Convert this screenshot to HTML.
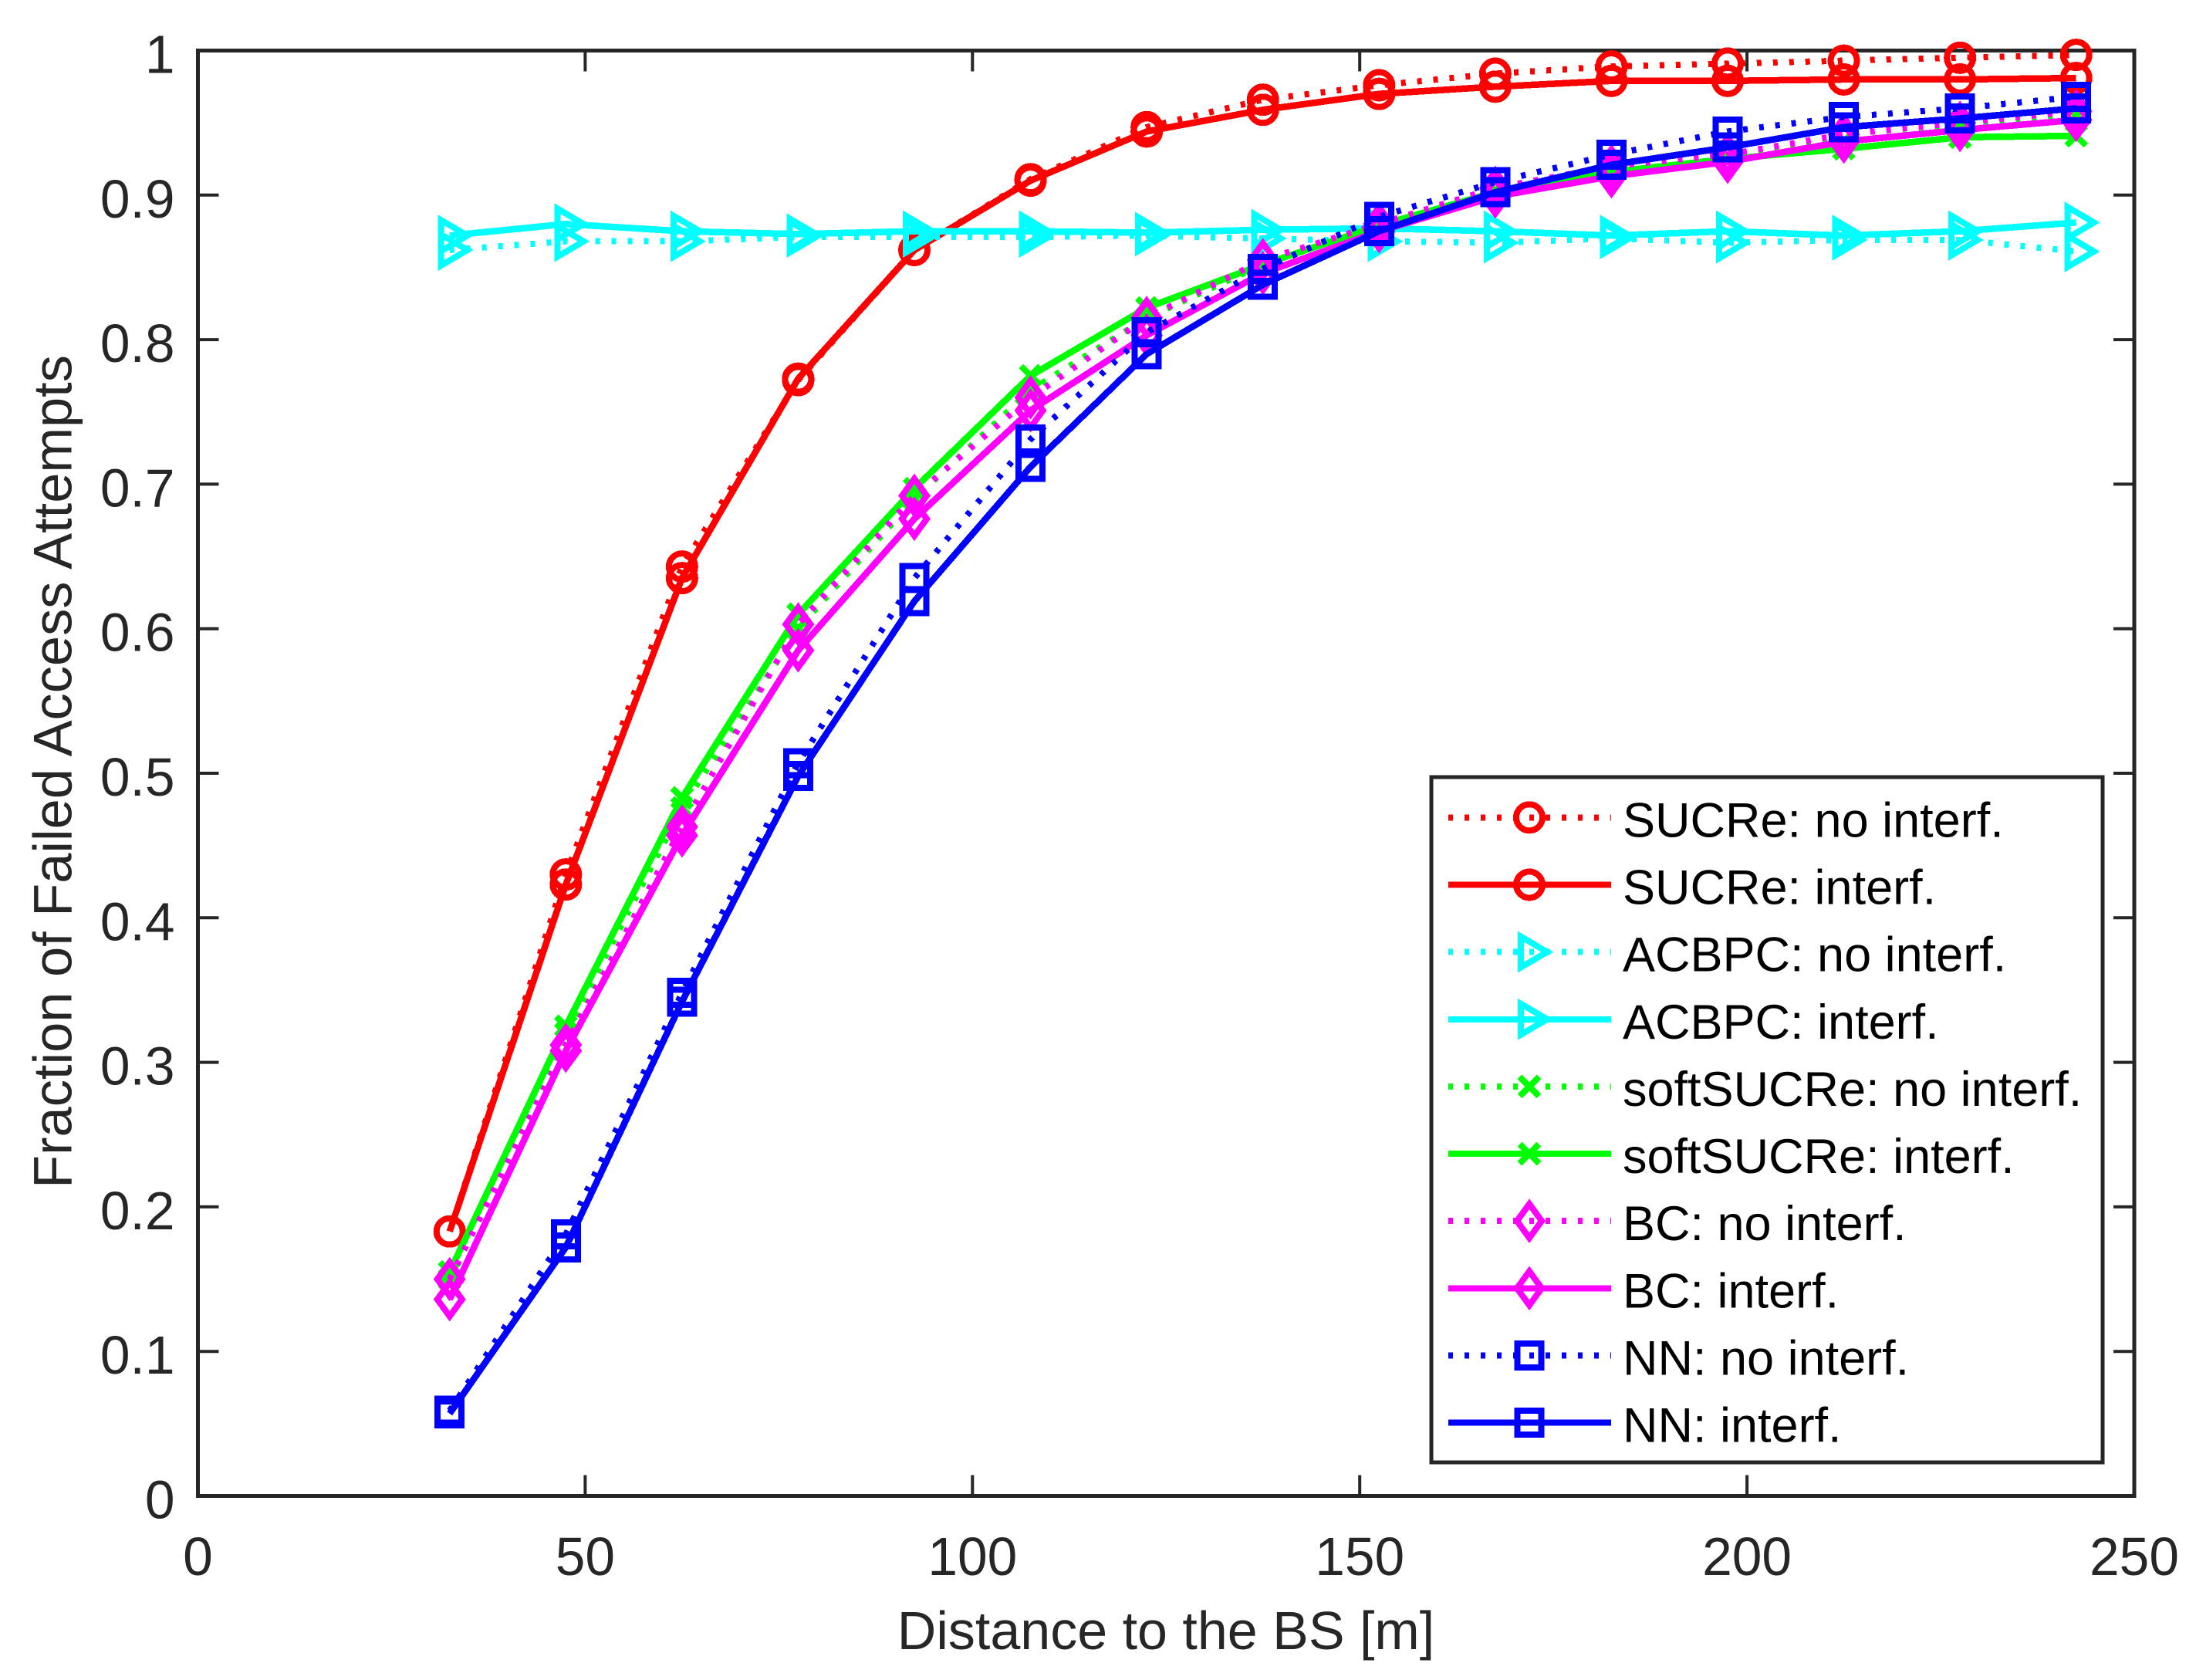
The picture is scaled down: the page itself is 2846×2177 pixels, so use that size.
<!DOCTYPE html>
<html lang="en">
<head>
<meta charset="utf-8">
<title>Fraction of Failed Access Attempts</title>
<style>
html,body{margin:0;padding:0;background:#fff;}
svg{display:block;}
text{font-family:"Liberation Sans",Arial,sans-serif;}
</style>
</head>
<body>
<svg id="chart" xmlns="http://www.w3.org/2000/svg" width="2846" height="2177" viewBox="0 0 2846 2177">
  <rect x="0" y="0" width="2846" height="2177" fill="#ffffff"/>
  <g id="axes"></g>
  <g id="series"></g>
  <g id="legend"></g>
</svg>
<script>
const distances = [32.5,47.5,62.5,77.5,92.5,107.5,122.5,137.5,152.5,167.5,182.5,197.5,212.5,227.5,242.5];
const xTicks = [0,50,100,150,200,250];
const yTicks = [0,0.1,0.2,0.3,0.4,0.5,0.6,0.7,0.8,0.9,1];
const yTickLabels = ['0','0.1','0.2','0.3','0.4','0.5','0.6','0.7','0.8','0.9','1'];

const sucreNoInterf = [0.183,0.430,0.643,0.772,0.862,0.911,0.947,0.966,0.976,0.984,0.989,0.991,0.993,0.995,0.997];
const sucreInterf = [0.183,0.423,0.635,0.773,0.862,0.910,0.944,0.959,0.970,0.975,0.979,0.979,0.980,0.980,0.981];
const acbpcNoInterf = [0.862,0.868,0.868,0.871,0.871,0.871,0.872,0.870,0.868,0.867,0.870,0.867,0.869,0.869,0.861];
const acbpcInterf = [0.872,0.880,0.875,0.873,0.875,0.875,0.874,0.876,0.877,0.875,0.872,0.875,0.872,0.875,0.881];
const softNoInterf = [0.150,0.320,0.476,0.600,0.690,0.765,0.815,0.852,0.880,0.903,0.920,0.927,0.937,0.946,0.955];
const softInterf = [0.155,0.325,0.483,0.610,0.697,0.775,0.822,0.852,0.879,0.902,0.916,0.925,0.932,0.940,0.941];
const bcNoInterf = [0.150,0.312,0.463,0.603,0.692,0.760,0.815,0.855,0.880,0.905,0.920,0.928,0.942,0.950,0.958];
const bcInterf = [0.136,0.308,0.457,0.585,0.676,0.751,0.803,0.846,0.875,0.899,0.913,0.923,0.937,0.945,0.952];
const nnNoInterf = [0.059,0.181,0.348,0.507,0.635,0.731,0.805,0.849,0.885,0.909,0.928,0.944,0.954,0.960,0.968];
const nnInterf = [0.057,0.172,0.342,0.498,0.619,0.712,0.790,0.838,0.875,0.902,0.921,0.933,0.947,0.953,0.960];

const seriesList = [
  {id:'sucre-no-interf', label:'SUCRe: no interf.', values:sucreNoInterf, color:'#ff0000', dotted:true, marker:'circle'},
  {id:'sucre-interf', label:'SUCRe: interf.', values:sucreInterf, color:'#ff0000', dotted:false, marker:'circle'},
  {id:'acbpc-no-interf', label:'ACBPC: no interf.', values:acbpcNoInterf, color:'#00ffff', dotted:true, marker:'triangle'},
  {id:'acbpc-interf', label:'ACBPC: interf.', values:acbpcInterf, color:'#00ffff', dotted:false, marker:'triangle'},
  {id:'soft-sucre-no-interf', label:'softSUCRe: no interf.', values:softNoInterf, color:'#00ff00', dotted:true, marker:'cross'},
  {id:'soft-sucre-interf', label:'softSUCRe: interf.', values:softInterf, color:'#00ff00', dotted:false, marker:'cross'},
  {id:'bc-no-interf', label:'BC: no interf.', values:bcNoInterf, color:'#ff00ff', dotted:true, marker:'diamond'},
  {id:'bc-interf', label:'BC: interf.', values:bcInterf, color:'#ff00ff', dotted:false, marker:'diamond'},
  {id:'nn-no-interf', label:'NN: no interf.', values:nnNoInterf, color:'#0000ff', dotted:true, marker:'square'},
  {id:'nn-interf', label:'NN: interf.', values:nnInterf, color:'#0000ff', dotted:false, marker:'square'}
];

const NS = 'http://www.w3.org/2000/svg';
const plot = {left:256.5, right:2766, top:65.5, bottom:1938.5};
const xMax = 250;
const axisColor = '#262626';

function xScale(v){ return plot.left + (v / xMax) * (plot.right - plot.left); }
function yScale(v){ return plot.bottom - v * (plot.bottom - plot.top); }

function make(tag, attrs, parent){
  const el = document.createElementNS(NS, tag);
  for (const k in attrs) el.setAttribute(k, attrs[k]);
  if (parent) parent.appendChild(el);
  return el;
}

function markerShape(kind, cx, cy, color, parent){
  const sw = 8;
  let el;
  if (kind === 'circle') {
    el = make('circle', {cx:cx, cy:cy, r:17, fill:'none', stroke:color, 'stroke-width':sw}, parent);
  } else if (kind === 'square') {
    el = make('rect', {x:cx-15.5, y:cy-15.5, width:31, height:31, fill:'none', stroke:color, 'stroke-width':sw}, parent);
  } else if (kind === 'triangle') {
    const pts = [[cx-11,cy-20],[cx+23,cy],[cx-11,cy+20]].map(p => p.join(',')).join(' ');
    el = make('polygon', {points:pts, fill:'none', stroke:color, 'stroke-width':sw, 'stroke-linejoin':'miter', 'stroke-miterlimit':10}, parent);
  } else if (kind === 'diamond') {
    const pts = [[cx,cy-22],[cx+16,cy],[cx,cy+22],[cx-16,cy]].map(p => p.join(',')).join(' ');
    el = make('polygon', {points:pts, fill:'none', stroke:color, 'stroke-width':sw, 'stroke-linejoin':'miter', 'stroke-miterlimit':10}, parent);
  } else {
    const d = 'M'+(cx-12.5)+' '+(cy-12.5)+'L'+(cx+12.5)+' '+(cy+12.5)+'M'+(cx-12.5)+' '+(cy+12.5)+'L'+(cx+12.5)+' '+(cy-12.5);
    el = make('path', {d:d, fill:'none', stroke:color, 'stroke-width':sw}, parent);
  }
  el.setAttribute('shape-rendering', 'crispEdges');
  return el;
}

/* ---------- axes ---------- */
const axes = document.getElementById('axes');

const axesBox = make('rect', {x:plot.left, y:plot.top, width:plot.right-plot.left, height:plot.bottom-plot.top, fill:'none', stroke:axisColor, 'stroke-width':5}, axes);



xTicks.forEach(function(t){
  const x = xScale(t);
  if (t !== 0 && t !== xMax) {
    const tb = make('line', {x1:x, x2:x, y1:plot.bottom, y2:plot.bottom-27, stroke:axisColor, 'stroke-width':4}, axes);
    
    
    const tt = make('line', {x1:x, x2:x, y1:plot.top, y2:plot.top+27, stroke:axisColor, 'stroke-width':4}, axes);
    
    
  }
  const lab = make('text', {x:x, y:2041, 'text-anchor':'middle', 'font-size':69.5, fill:axisColor}, axes);
  lab.textContent = String(t);
  
  
});

yTicks.forEach(function(t, i){
  const y = yScale(t);
  if (t !== 0 && t !== 1) {
    const tl = make('line', {x1:plot.left, x2:plot.left+27, y1:y, y2:y, stroke:axisColor, 'stroke-width':4}, axes);
    
    
    const tr = make('line', {x1:plot.right, x2:plot.right-27, y1:y, y2:y, stroke:axisColor, 'stroke-width':4}, axes);
    
    
  }
  const lab = make('text', {x:226.5, y:y+29, 'text-anchor':'end', 'font-size':69.5, fill:axisColor}, axes);
  lab.textContent = yTickLabels[i];
  
  
});

const xTitle = make('text', {x:1511, y:2137, 'text-anchor':'middle', 'font-size':70, fill:axisColor}, axes);
xTitle.textContent = 'Distance to the BS [m]';



const yTitle = make('text', {x:0, y:0, transform:'translate(92.5,1000) rotate(-90)', 'text-anchor':'middle', 'font-size':70.4, fill:axisColor}, axes);
yTitle.textContent = 'Fraction of Failed Access Attempts';



/* ---------- series ---------- */
const seriesRoot = document.getElementById('series');
seriesList.forEach(function(s){
  const g = make('g', {}, seriesRoot);
  
  
  const pts = s.values.map(function(v, i){ return xScale(distances[i]) + ',' + yScale(v); }).join(' ');
  const attrs = {points:pts, fill:'none', stroke:s.color, 'stroke-width':s.dotted ? 8 : 8.5, 'stroke-linejoin':'round', 'shape-rendering':'crispEdges'};
  if (s.dotted) attrs['stroke-dasharray'] = '6 15';
  const line = make('polyline', attrs, g);
  
  
  s.values.forEach(function(v, i){
    const m = markerShape(s.marker, xScale(distances[i]), yScale(v), s.color, g);
    
    
  });
});

/* ---------- legend ---------- */
const legendRoot = document.getElementById('legend');
const legendBox = make('rect', {x:1855, y:1007, width:870, height:888, fill:'#ffffff', stroke:axisColor, 'stroke-width':5}, legendRoot);



seriesList.forEach(function(s, i){
  const cy = 1059.3 + i * 87.15;
  const g = make('g', {}, legendRoot);
  
  
  const attrs = {x1:1877, x2:2088, y1:cy, y2:cy, stroke:s.color, 'stroke-width':8, 'shape-rendering':'crispEdges'};
  if (s.dotted) attrs['stroke-dasharray'] = '6 15';
  const sample = make('line', attrs, g);
  
  
  const mk = markerShape(s.marker, 1982, cy, s.color, g);
  
  
  const txt = make('text', {x:2103, y:cy+25, 'font-size':63, fill:'#000000'}, g);
  txt.textContent = s.label;
  
  
});
</script>
</body>
</html>
